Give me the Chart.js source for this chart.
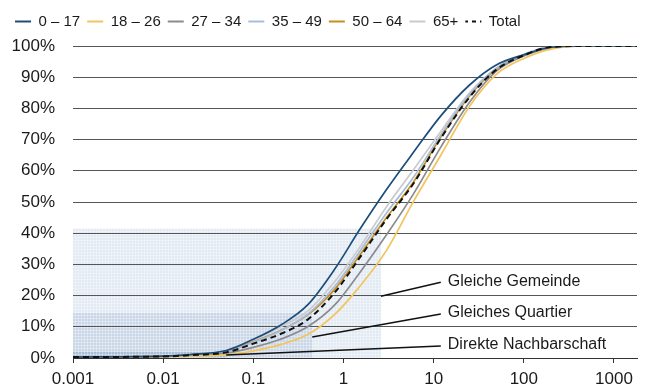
<!DOCTYPE html>
<html><head><meta charset="utf-8">
<script src="https://cdn.jsdelivr.net/npm/chart.js@4.4.0/dist/chart.umd.min.js"></script>
<style>html,body{margin:0;padding:0;background:#fff}#wrap{width:646px;height:387px;position:relative}</style>
</head><body><div id="wrap"><canvas id="c"></canvas></div>
<script>
// Distance (x) values and cumulative shares (%) per age group
const distances = [0.001, 0.01, 0.02, 0.05, 0.1, 0.2, 0.4, 0.8, 1.5, 3, 6, 12, 25, 50, 100, 200, 500, 1000, 1800];
const age0_17   = [0.3, 0.6, 1.1, 2.4, 6.0, 10.5, 17.0, 28.5, 41.0, 54.0, 66.0, 77.6, 87.5, 94.0, 97.2, 99.6, 100, 100, 100];
const age18_26  = [0.2, 0.4, 0.6, 1.0, 2.3, 4.3, 7.5, 14.0, 22.8, 34.5, 50.3, 65.0, 80.7, 91.0, 96.0, 99.0, 100, 100, 100];
const age27_34  = [0.3, 0.5, 0.8, 1.5, 3.4, 6.0, 10.0, 17.0, 27.2, 39.5, 52.7, 67.6, 82.0, 92.0, 96.8, 99.4, 100, 100, 100];
const age35_49  = [0.3, 0.5, 1.0, 2.0, 5.0, 8.7, 14.0, 23.0, 34.0, 46.5, 58.0, 71.5, 84.5, 93.0, 97.3, 99.7, 100, 100, 100];
const age50_64  = [0.3, 0.5, 1.0, 2.1, 5.2, 8.8, 13.8, 22.0, 32.8, 45.0, 56.5, 70.8, 84.0, 92.7, 97.0, 99.7, 100, 100, 100];
const age65plus = [0.3, 0.6, 1.1, 2.3, 5.8, 10.0, 15.0, 24.5, 35.3, 48.5, 60.4, 72.6, 85.0, 93.0, 97.3, 99.7, 100, 100, 100];
const total     = [0.3, 0.5, 0.9, 1.8, 4.6, 7.7, 12.3, 21.0, 32.0, 44.5, 56.0, 70.4, 83.6, 92.5, 97.0, 99.7, 100, 100, 100];

const seriesNames = ['0 – 17', '18 – 26', '27 – 34', '35 – 49', '50 – 64', '65+', 'Total'];
const seriesValues = [age0_17, age18_26, age27_34, age35_49, age50_64, age65plus, total];

const xTickValues = [0.001, 0.01, 0.1, 1, 10, 100, 1000];
const xTickLabels = ['0.001', '0.01', '0.1', '1', '10', '100', '1000'];

// Neighbourhood zones: max distance and share
const zoneNames    = ['Direkte Nachbarschaft', 'Gleiches Quartier', 'Gleiche Gemeinde'];
const zoneMaxDist  = [0.05, 0.45, 2.6];
const zoneShare    = [2.0, 14.4, 41.5];

// Styling (not data)
const colors = ['#1d4e7b', '#f2c45c', '#8b8b90', '#a9bcd8', '#c58f1f', '#cacbd0', '#111111'];
const zoneFills = ['#a9bdd6', '#c9d6e7', '#e2eaf4'];
const calloutCfg = [
  {fromY: 0.96, toX: 12, toY: 3.85},
  {fromY: 6.7,  toX: 12, toY: 14.1},
  {fromY: 19.8, toX: 12, toY: 24.3}
];
const FONT = "'Liberation Sans', Arial, sans-serif";
const TOTAL_INDEX = seriesNames.length - 1;

function makePattern(ctx, base) {
  const c = document.createElement('canvas');
  c.width = 3; c.height = 3;
  const g = c.getContext('2d');
  g.fillStyle = base; g.fillRect(0, 0, 3, 3);
  g.fillStyle = 'rgba(255,255,255,0.35)';
  g.fillRect(0, 0, 3, 1); g.fillRect(0, 0, 1, 3);
  return ctx.createPattern(c, 'repeat');
}
function dashPattern(ctx, color) {
  const c = document.createElement('canvas');
  c.width = 8; c.height = 4;
  const g = c.getContext('2d');
  g.fillStyle = color; g.fillRect(0, 0, 4, 4);
  return ctx.createPattern(c, 'repeat');
}

const zonePlugin = {
  id: 'zones',
  afterInit(chart) {
    const lg = chart.legend;
    if (lg) {
      const orig = lg.fit;
      lg.fit = function () { orig.call(this); this.height += 7; };
    }
  },
  beforeDraw(chart) {
    const {ctx, chartArea, scales: {x, y}} = chart;
    ctx.save();
    const y0 = y.getPixelForValue(0);
    for (let i = zoneMaxDist.length - 1; i >= 0; i--) {
      const xr = x.getPixelForValue(zoneMaxDist[i]);
      const yt = y.getPixelForValue(zoneShare[i]);
      ctx.fillStyle = makePattern(ctx, zoneFills[i]);
      ctx.fillRect(chartArea.left, yt, xr - chartArea.left, y0 - yt);
    }
    ctx.restore();
  },
  afterDatasetsDraw(chart) {
    const {ctx, scales: {x, y}} = chart;
    ctx.save();
    ctx.strokeStyle = '#111';
    ctx.lineWidth = 1.5;
    ctx.fillStyle = '#1a1a1a';
    ctx.font = '16px ' + FONT;
    ctx.textBaseline = 'middle';
    ctx.textAlign = 'left';
    for (let i = 0; i < zoneNames.length; i++) {
      const c = calloutCfg[i];
      const x1 = x.getPixelForValue(zoneMaxDist[i]);
      const y1 = y.getPixelForValue(c.fromY);
      const x2 = x.getPixelForValue(c.toX);
      const y2 = y.getPixelForValue(c.toY);
      ctx.beginPath(); ctx.moveTo(x1, y1); ctx.lineTo(x2, y2); ctx.stroke();
      ctx.fillText(zoneNames[i], x2 + 7, y2 - 1);
    }
    ctx.restore();
  }
};

const datasets = seriesNames.map((name, i) => ({
  label: name,
  data: distances.map((d, j) => ({x: d, y: seriesValues[i][j]})),
  borderColor: colors[i],
  backgroundColor: colors[i],
  borderWidth: i === TOTAL_INDEX ? 2 : 1.7,
  borderDash: i === TOTAL_INDEX ? [6, 4] : [],
  pointRadius: 0,
  pointHoverRadius: 0,
  fill: false,
  cubicInterpolationMode: 'monotone',
  order: i === TOTAL_INDEX ? 0 : (i === 0 ? 1 : 2 + i)
}));

new Chart(document.getElementById('c'), {
  type: 'line',
  data: {datasets},
  plugins: [zonePlugin],
  options: {
    responsive: true,
    maintainAspectRatio: false,
    animation: false,
    devicePixelRatio: 1,
    layout: {padding: {left: 8, right: 9, top: 7, bottom: 0}},
    plugins: {
      tooltip: {enabled: false},
      legend: {
        display: true,
        position: 'top',
        align: 'start',
        labels: {
          usePointStyle: true,
          pointStyle: 'line',
          pointStyleWidth: 16,
          padding: 7,
          color: '#1a1a1a',
          font: {family: FONT, size: 15},
          sort: (a, b) => a.datasetIndex - b.datasetIndex,
          generateLabels: (chart) => {
            const items = Chart.defaults.plugins.legend.labels.generateLabels(chart);
            items.forEach(it => {
              it.lineWidth = 2;
              it.strokeStyle = colors[it.datasetIndex];
              if (it.datasetIndex === TOTAL_INDEX) {
                it.strokeStyle = dashPattern(chart.ctx, '#111');
              }
            });
            return items;
          }
        }
      }
    },
    scales: {
      x: {
        type: 'logarithmic',
        min: 0.001,
        max: 1800,
        afterBuildTicks: (s) => { s.ticks = xTickValues.map(v => ({value: v})); },
        afterFit: (s) => { s.height = 29; },
        ticks: {
          autoSkip: false, maxRotation: 0, padding: 6,
          color: '#1a1a1a', font: {family: FONT, size: 17},
          callback: (v, idx) => xTickLabels[idx]
        },
        grid: {drawOnChartArea: false, drawTicks: true, tickLength: 5, color: '#333', lineWidth: 1},
        border: {display: true, color: '#333', width: 1}
      },
      y: {
        min: 0, max: 100,
        afterFit: (s) => { s.width = 65; },
        ticks: {
          stepSize: 10, padding: 18,
          color: '#1a1a1a', font: {family: FONT, size: 17},
          callback: (v) => v + '%'
        },
        grid: {color: '#555', lineWidth: 1, drawTicks: false},
        border: {display: false}
      }
    }
  }
});
</script>
</body></html>
